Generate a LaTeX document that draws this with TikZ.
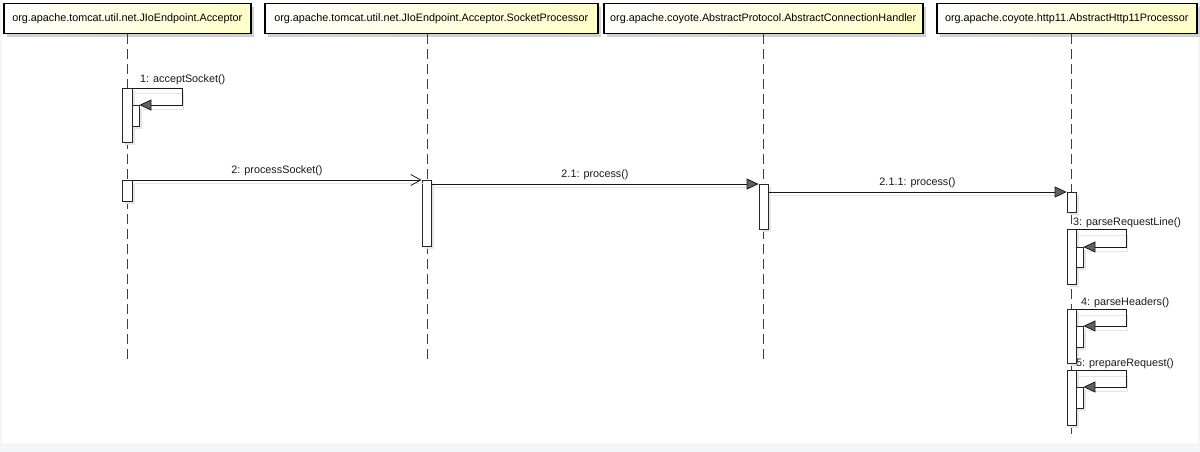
\documentclass[tikz,border=0pt]{standalone}
\usepackage{fontspec}
\setmainfont{Liberation Sans}
\usetikzlibrary{arrows.meta,shadows}
\definecolor{pageg}{RGB}{244,245,248}
\definecolor{paley}{RGB}{255,255,200}
\begin{document}
\begin{tikzpicture}[x=1pt,y=-1pt,
  font=\fontsize{10.8}{12}\selectfont,
  header/.style={draw=black,line width=1.5pt,left color=white,right color=paley,
    minimum height=30pt,inner sep=0pt,anchor=north west,
    drop shadow={shadow xshift=3pt,shadow yshift=-3pt,fill=black!18,opacity=1}},
  lifeline/.style={draw=black!75,line width=0.9pt,dash pattern=on 10pt off 5pt},
  actbar/.style={draw=black!85,line width=0.8pt,fill=white,inner sep=0pt,anchor=north,
    minimum width=9pt,
    drop shadow={shadow xshift=2.5pt,shadow yshift=-2.5pt,fill=black!10,opacity=1}},
  inbar/.style={actbar,minimum width=7pt},
  msg/.style={draw=black!90,line width=0.8pt},
  msgshadow/.style={draw=black!10,line width=1pt},
  filltip/.style={-{Triangle[length=12pt,width=11pt,fill=black!62]}},
  opentip/.style={-{Straight Barb[length=10pt,width=11pt]}},
  lbl/.style={inner sep=0pt,text=black!90}
]
\useasboundingbox (0,0) rectangle (1200,452);
\fill[pageg] (0,0) rectangle (1200,452);
\fill[white] (2,0) rectangle (1198,443);

% headers
\node[header,minimum width=247pt] (h1) at (3,3) {org.apache.tomcat.util.net.JIoEndpoint.Acceptor};
\node[header,minimum width=333pt] (h2) at (264,3) {org.apache.tomcat.util.net.JIoEndpoint.Acceptor.SocketProcessor};
\node[header,minimum width=319pt] (h3) at (603,3) {org.apache.coyote.AbstractProtocol.AbstractConnectionHandler};
\node[header,minimum width=260pt] (h4) at (936,3) {org.apache.coyote.http11.AbstractHttp11Processor};

% lifelines
\coordinate (t1) at (127,34);  \coordinate (e1) at (127,362);
\coordinate (t2) at (427,34);  \coordinate (e2) at (427,362);
\coordinate (t3) at (763,34);  \coordinate (e3) at (763,362);
\coordinate (t4) at (1071,34); \coordinate (e4) at (1071,434);
\draw[lifeline] (t1) -- (e1);
\draw[lifeline] (t2) -- (e2);
\draw[lifeline] (t3) -- (e3);
\draw[lifeline] (t4) -- (e4);

% activation bars
\node[actbar,minimum width=10pt,minimum height=54pt] (a1) at (127,88) {};
\node[inbar,minimum height=21pt] (a1i) at (135.5,105) {};
\node[actbar,minimum width=10pt,minimum height=21pt] (a2) at (127,180) {};
\node[actbar,minimum height=66pt] (s1) at (426.5,180) {};
\node[actbar,minimum height=45pt] (c1) at (763.5,184) {};
\node[actbar,minimum height=20pt] (p1) at (1071.5,192) {};
\node[actbar,minimum height=55pt] (p3) at (1071.5,229) {};
\node[inbar,minimum height=20pt] (p3i) at (1079.5,247) {};
\node[actbar,minimum height=54pt] (p4) at (1071.5,309) {};
\node[inbar,minimum height=21pt] (p4i) at (1079.5,326) {};
\node[actbar,minimum height=55pt] (p5) at (1071.5,370) {};
\node[inbar,minimum height=21pt] (p5i) at (1079.5,387) {};

% message shadows
\draw[msgshadow] ([shift={(2,3)}]a2.north east) -- ([shift={(2,3)}]s1.north west);
\draw[msgshadow] ([shift={(2,3)}]s1.east |- c1.north) -- ([shift={(-4,3)}]c1.north west);
\draw[msgshadow] ([shift={(2,3)}]c1.east |- p1.north) -- ([shift={(-4,3)}]p1.north west);
\foreach \o/\i in {a1/a1i,p3/p3i,p4/p4i,p5/p5i}{
  \draw[msgshadow] ([shift={(2,6)}]\o.north east) -- ++(49,0) |- ([shift={(4,4)}]\i.north east);
}

% messages
\draw[msg,opentip] (a2.north east) -- (s1.north west)
  node[lbl,midway,above=4pt] (m2) {2: processSocket()};
\draw[msg,filltip] (s1.east |- c1.north) -- (c1.north west)
  node[lbl,midway,above=4pt] (m21) {2.1: process()};
\draw[msg,filltip] (c1.east |- p1.north) -- (p1.north west)
  node[lbl,midway,above=4pt] (m211) {2.1.1: process()};

% self calls
\draw[msg,filltip] (a1.north east) -- ++(50,0) |- (a1i.north east);
\draw[msg,filltip] (p3.north east) -- ++(50,0) |- (p3i.north east);
\draw[msg,filltip] (p4.north east) -- ++(50,0) |- (p4i.north east);
\draw[msg,filltip] (p5.north east) -- ++(50,0) |- (p5i.north east);

\node[lbl,anchor=base west] (m1) at (140,83) {1: acceptSocket()};
\node[lbl,anchor=base west] (m3) at (1073,225) {3: parseRequestLine()};
\node[lbl,anchor=base west] (m4) at (1081,305) {4: parseHeaders()};
\node[lbl,anchor=base west] (m5) at (1076,366) {5: prepareRequest()};
\end{tikzpicture}
\end{document}
